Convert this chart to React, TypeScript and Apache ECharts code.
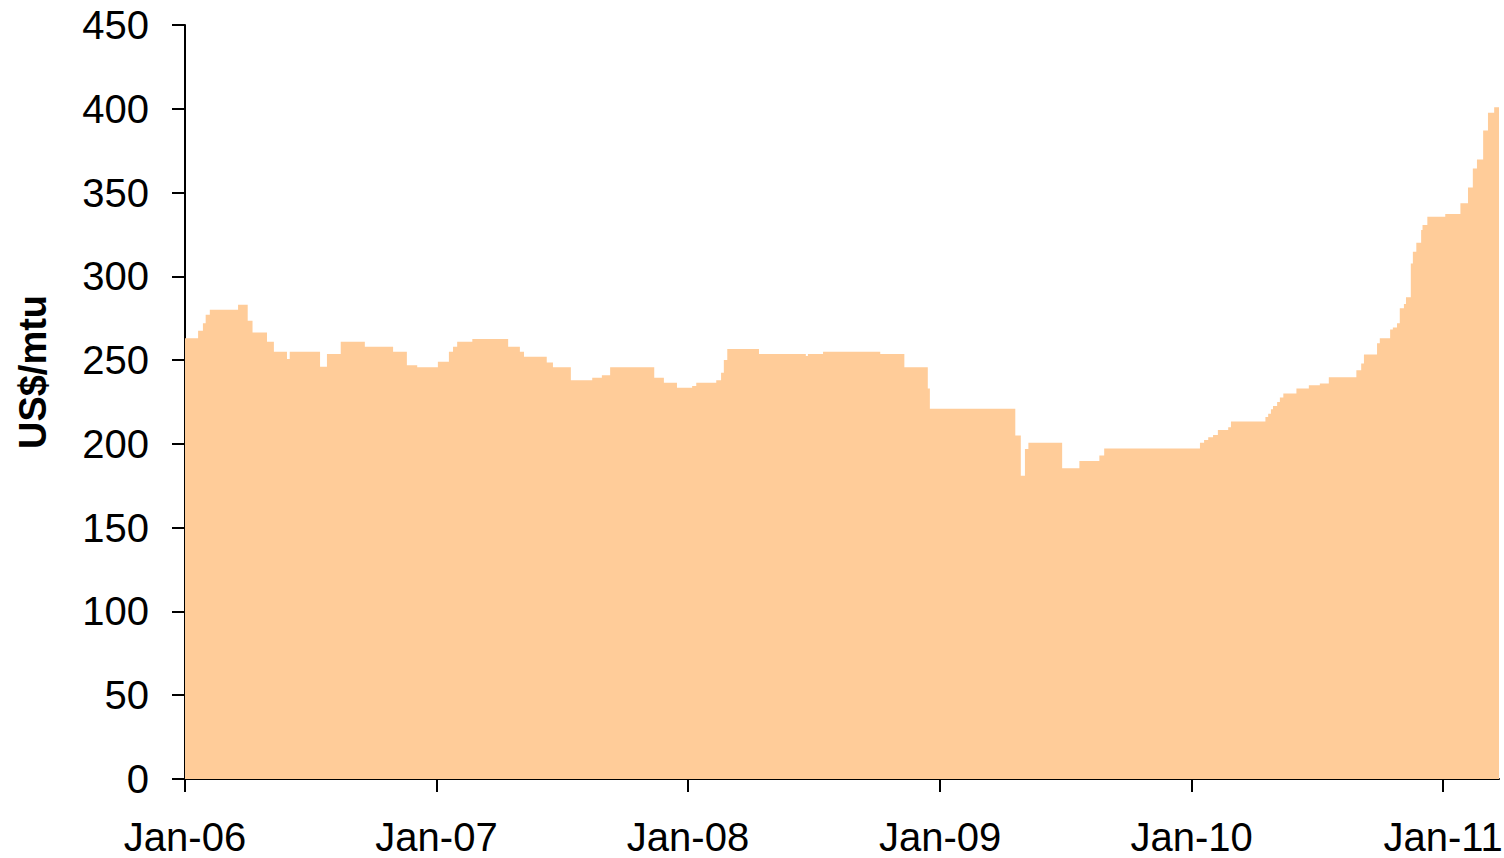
import React, { useEffect, useRef } from 'react';
import * as echarts from 'echarts';

// Change points of the weekly price series (value holds until the next date)
const dates: string[] = [
  '2006-01-01', '2006-01-20', '2006-01-27', '2006-01-31', '2006-02-06', '2006-03-19', '2006-04-02', '2006-04-09',
  '2006-04-30', '2006-05-10', '2006-05-29', '2006-06-02', '2006-07-16', '2006-07-26', '2006-08-15', '2006-09-19',
  '2006-10-30', '2006-11-19', '2006-12-04', '2007-01-03', '2007-01-19', '2007-01-25', '2007-01-31', '2007-02-22',
  '2007-04-15', '2007-05-02', '2007-05-08', '2007-06-10', '2007-06-19', '2007-07-15', '2007-08-15', '2007-08-29',
  '2007-09-10', '2007-11-13', '2007-11-27', '2007-12-16', '2008-01-07', '2008-01-13', '2008-02-11', '2008-02-18',
  '2008-02-22', '2008-02-27', '2008-04-13', '2008-06-20', '2008-06-23', '2008-07-15', '2008-10-06', '2008-11-10',
  '2008-12-14', '2008-12-17', '2009-04-20', '2009-04-28', '2009-05-04', '2009-05-09', '2009-06-27', '2009-07-22',
  '2009-08-20', '2009-08-27', '2010-01-13', '2010-01-19', '2010-01-25', '2010-02-01', '2010-02-08', '2010-02-23',
  '2010-02-27', '2010-04-18', '2010-04-22', '2010-04-26', '2010-04-29', '2010-05-05', '2010-05-09', '2010-05-14',
  '2010-06-02', '2010-06-20', '2010-07-06', '2010-07-19', '2010-08-28', '2010-09-04', '2010-09-08', '2010-09-27',
  '2010-10-01', '2010-10-16', '2010-10-20', '2010-10-26', '2010-10-30', '2010-11-05', '2010-11-08', '2010-11-15',
  '2010-11-18', '2010-11-23', '2010-11-30', '2010-12-02', '2010-12-09', '2011-01-04', '2011-01-26', '2011-02-06',
  '2011-02-13', '2011-02-19', '2011-02-28', '2011-03-07', '2011-03-16', '2011-03-23',
];

const prices: number[] = [
  263, 267.5, 272, 277, 280, 283, 273.5, 266.5,
  261, 255, 250.6, 255, 246, 253.6, 261, 258,
  255, 247, 245.7, 249, 255, 258, 261, 262.6,
  258, 255, 252, 248.6, 245.7, 238, 239.5, 241,
  245.7, 239.5, 236.5, 233.5, 234.5, 236.5, 238, 242.5,
  250, 256.6, 253.6, 252.5, 253.6, 255, 253.6, 245.7,
  233, 221, 205, 181, 197, 200.7, 185.4, 189.8,
  193, 197.3, 200.7, 202.3, 204, 205.3, 208.3, 210,
  213.3, 216, 218, 220.6, 222.6, 225, 227.7, 230,
  233, 235, 236, 239.7, 244, 248, 253.4, 260,
  263, 268.3, 269.5, 272, 281, 283.5, 287.5, 307.7,
  314.7, 320, 327.6, 330.6, 335.6, 337.2, 343.6, 353,
  364.4, 369.8, 387, 397.6, 400.9, 400.9,
];

const tickYears: number[] = [2006, 2007, 2008, 2009, 2010, 2011];
const tickLabels: string[] = ['Jan-06', 'Jan-07', 'Jan-08', 'Jan-09', 'Jan-10', 'Jan-11'];

const FONT = '"Liberation Sans", Arial, sans-serif';

function toTime(s: string): number {
  const [y, m, d] = s.split('-').map(Number);
  return Date.UTC(y, m - 1, d);
}

export default function App() {
  const ref = useRef<HTMLDivElement>(null);

  useEffect(() => {
    if (!ref.current) return;
    const chart = echarts.init(ref.current, null, { renderer: 'svg' });
    const tickTimes = tickYears.map((y) => Date.UTC(y, 0, 1));
    const data = dates.map((d, i) => [toTime(d), prices[i]]);

    chart.setOption({
      animation: false,
      grid: { left: 185, right: 5, top: 25, bottom: 79, containLabel: false, outerBoundsMode: 'none' },
      xAxis: {
        type: 'value',
        min: toTime('2006-01-01'),
        max: toTime(dates[dates.length - 1]),
        axisLine: { show: true, lineStyle: { color: '#000', width: 2 } },
        axisTick: { show: true, customValues: tickTimes, length: 13, lineStyle: { color: '#000', width: 2 } },
        axisLabel: {
          customValues: tickTimes,
          formatter: (v: number) => {
            const y = new Date(v).getUTCFullYear();
            const idx = tickYears.indexOf(y);
            return idx >= 0 ? tickLabels[idx] : '';
          },
          color: '#000',
          fontSize: 40,
          fontFamily: FONT,
          margin: 38,
          hideOverlap: false,
        },
        splitLine: { show: false },
      },
      yAxis: {
        type: 'value',
        min: 0,
        max: 450,
        interval: 50,
        axisLine: { show: true, lineStyle: { color: '#000', width: 2 } },
        axisTick: { show: true, length: 13, lineStyle: { color: '#000', width: 2 } },
        axisLabel: { color: '#000', fontSize: 40, fontFamily: FONT, margin: 36 },
        splitLine: { show: false },
      },
      graphic: [
        {
          type: 'text',
          x: 33,
          y: 372,
          rotation: Math.PI / 2,
          style: {
            text: 'US$/mtu',
            font: `bold 38px ${FONT}`,
            fill: '#000',
            textAlign: 'center',
            textVerticalAlign: 'middle',
          },
        },
      ],
      series: [
        {
          type: 'line',
          step: 'end',
          data,
          showSymbol: false,
          lineStyle: { width: 0 },
          areaStyle: { color: '#FFCC99', opacity: 1 },
          z: 1,
        },
      ],
    });

    return () => chart.dispose();
  }, []);

  return (
    <div
      ref={ref}
      style={{ position: 'absolute', left: 0, top: 0, width: 1504, height: 858 }}
    />
  );
}
